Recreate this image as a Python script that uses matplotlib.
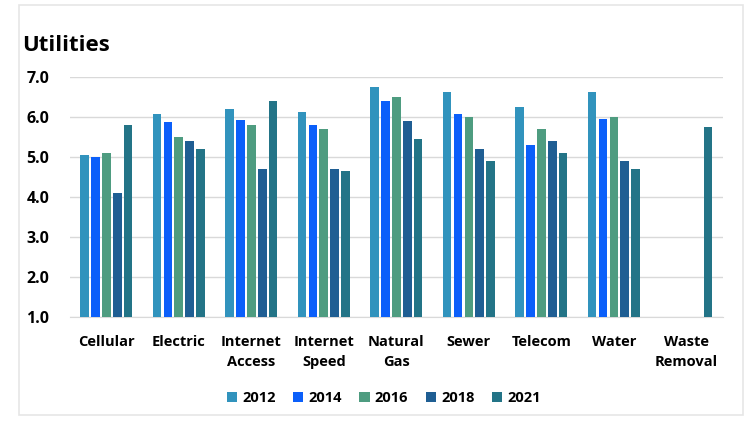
import matplotlib.pyplot as plt
import numpy as np
from matplotlib.patches import Rectangle

categories = ['Cellular', 'Electric', 'Internet\nAccess', 'Internet\nSpeed', 'Natural\nGas',
              'Sewer', 'Telecom', 'Water', 'Waste\nRemoval']
years = ['2012', '2014', '2016', '2018', '2021']
nan = np.nan
v2012 = [5.06, 6.07, 6.19, 6.12, 6.76, 6.62, 6.25, 6.62, nan]
v2014 = [5.01, 5.88, 5.93, 5.81, 6.41, 6.07, 5.30, 5.95, nan]
v2016 = [5.10, 5.51, 5.81, 5.71, 6.51, 6.01, 5.71, 6.01, nan]
v2018 = [4.09, 5.40, 4.70, 4.70, 5.91, 5.21, 5.40, 4.90, nan]
v2021 = [5.81, 5.21, 6.41, 4.66, 5.46, 4.90, 5.10, 4.70, 5.76]
series = [v2012, v2014, v2016, v2018, v2021]
colors = ['#3193BD', '#0B5FFA', '#4E9C80', '#1F5E93', '#237487']

plt.rcParams['font.family'] = ['Open Sans', 'DejaVu Sans']
fig = plt.figure(figsize=(7.45, 4.22), dpi=100)
ax = fig.add_axes([0.094, 0.249, 0.876, 0.5685])

# faint outer frame
fig.patches.append(Rectangle((0.026, 0.017), 0.971, 0.97, transform=fig.transFigure,
                             fill=False, edgecolor='#E6E6E6', linewidth=1.2))

x = np.arange(len(categories))
step = 0.15
width = 0.12
for i, (vals, c, yr) in enumerate(zip(series, colors, years)):
    vals = np.array(vals)
    ax.bar(x + (i - 2) * step, vals - 1, bottom=1, width=width, color=c, label=yr, zorder=3)

ax.set_xlim(-0.5, len(categories) - 0.5)
ax.set_ylim(1, 7)
ax.set_yticks(np.arange(1, 8))
ax.set_yticklabels([f'{v:.1f}' for v in np.arange(1, 8)], fontsize=11.5, fontweight='bold')
ax.set_xticks(x)
ax.set_xticklabels(categories, fontsize=10.5, fontweight='bold', linespacing=1.55)
ax.tick_params(axis='x', length=0, pad=13)
ax.tick_params(axis='y', length=0, pad=15)
ax.grid(axis='y', color='#D9D9D9', linewidth=1, zorder=0)
for s in ['top', 'right', 'left']:
    ax.spines[s].set_visible(False)
ax.spines['bottom'].set_color('#D9D9D9')

fig.text(0.03, 0.878, 'Utilities', fontsize=16, fontweight='bold')

leg = fig.legend(loc='center', bbox_to_anchor=(0.515, 0.057), ncol=5, frameon=False,
                 handlelength=0.7, handleheight=0.7, handletextpad=0.35, columnspacing=1.2,
                 prop={'size': 10.5, 'weight': 'bold'})

fig.savefig('out.png', dpi=100)
